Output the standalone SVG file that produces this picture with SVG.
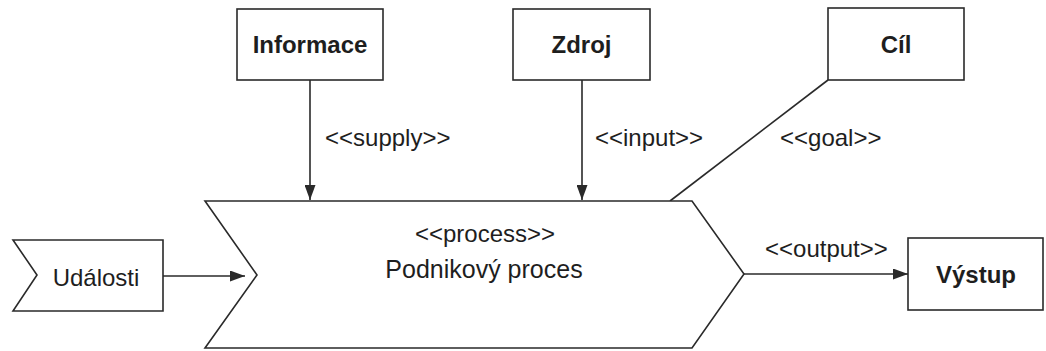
<svg xmlns="http://www.w3.org/2000/svg" width="1046" height="351" viewBox="0 0 1046 351">
  <style>
    .shape { fill: #ffffff; stroke: #2a2a2a; stroke-width: 1.6; }
    .edge { fill: none; stroke: #2a2a2a; stroke-width: 1.6; }
    .name { font-family: "Liberation Sans", Arial, sans-serif; font-size: 24px; font-weight: bold; fill: #1e1e1e; text-anchor: middle; }
    .label { font-family: "Liberation Sans", Arial, sans-serif; font-size: 24px; fill: #1e1e1e; }
    .big { font-size: 25px; }
    .mid { text-anchor: middle; }
  </style>
  <defs>
    <marker id="arrow" viewBox="0 0 15 11" refX="15" refY="5.5" markerWidth="15" markerHeight="11" markerUnits="userSpaceOnUse" orient="auto">
      <path d="M0,0 L15,5.5 L0,11 Z" fill="#2a2a2a"/>
    </marker>
  </defs>

  <rect width="1046" height="351" fill="#ffffff"/>

  <!-- connectors -->
  <g id="connectors">
    <line class="edge" x1="310" y1="80" x2="310" y2="200" marker-end="url(#arrow)"/>
    <text class="label" x="325" y="146">&lt;&lt;supply&gt;&gt;</text>
    <line class="edge" x1="582" y1="80" x2="582" y2="200" marker-end="url(#arrow)"/>
    <text class="label" x="595" y="146">&lt;&lt;input&gt;&gt;</text>
    <line class="edge" x1="828" y1="80" x2="670" y2="201"/>
    <text class="label" x="780" y="146">&lt;&lt;goal&gt;&gt;</text>
    <line class="edge" x1="163" y1="276" x2="245" y2="276" marker-end="url(#arrow)"/>
    <line class="edge" x1="744" y1="274" x2="908" y2="274" marker-end="url(#arrow)"/>
    <text class="label" x="765" y="257">&lt;&lt;output&gt;&gt;</text>
  </g>

  <!-- nodes -->
  <g id="informace">
    <rect class="shape" x="237" y="9" width="146" height="71"/>
    <text class="name" x="310" y="53">Informace</text>
  </g>
  <g id="zdroj">
    <rect class="shape" x="513" y="9" width="137" height="71"/>
    <text class="name" x="581.5" y="53">Zdroj</text>
  </g>
  <g id="cil">
    <rect class="shape" x="828" y="8" width="136" height="72"/>
    <text class="name" x="896" y="53">Cíl</text>
  </g>
  <g id="udalosti">
    <polygon class="shape" points="13,240 163,240 163,311 13,311 37,275"/>
    <text class="label mid" x="96" y="286">Události</text>
  </g>
  <g id="podnikovy-proces">
    <polygon class="shape" points="205,201 692,201 744,274 692,348 205,348 257,275"/>
    <text class="label mid" x="485" y="242">&lt;&lt;process&gt;&gt;</text>
    <text class="label big mid" x="484" y="278">Podnikový proces</text>
  </g>
  <g id="vystup">
    <rect class="shape" x="908" y="238" width="135" height="72"/>
    <text class="name" x="976" y="283">Výstup</text>
  </g>
</svg>
